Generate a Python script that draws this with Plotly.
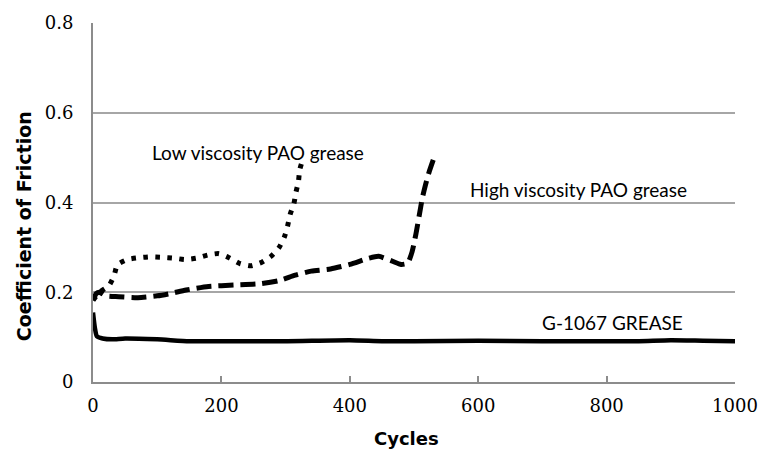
import plotly.graph_objects as go

# ---- data ----
g1067_x = [0, 3, 6, 15, 30, 50, 100, 150, 200, 300, 400, 450, 500, 600, 700, 800, 850, 900, 950, 1000]
g1067_y = [0.155, 0.12, 0.102, 0.097, 0.095, 0.097, 0.095, 0.091, 0.091, 0.091, 0.093, 0.091, 0.091, 0.092,
           0.091, 0.091, 0.091, 0.093, 0.092, 0.091]

low_x = [0, 10, 25, 33, 38, 54, 72, 89, 107, 126, 143, 161, 179, 196, 212, 229, 246, 263, 278, 290,
         298, 303, 307, 313, 316, 320, 322, 327]
low_y = [0.182, 0.2, 0.215, 0.238, 0.261, 0.273, 0.277, 0.279, 0.278, 0.276, 0.273, 0.276, 0.283, 0.286,
         0.277, 0.264, 0.259, 0.267, 0.281, 0.300, 0.323, 0.347, 0.373, 0.398, 0.422, 0.447, 0.473, 0.497]

high_x = [0, 5, 10, 20, 40, 70, 100, 120, 145, 180, 220, 260, 290, 315, 340, 370, 400, 430, 445, 465,
          480, 490, 497, 503, 508, 513, 518, 524, 530]
high_y = [0.182, 0.197, 0.2, 0.192, 0.19, 0.188, 0.192, 0.197, 0.205, 0.213, 0.216, 0.219, 0.226, 0.238,
          0.247, 0.252, 0.262, 0.276, 0.28, 0.27, 0.262, 0.265, 0.29, 0.33, 0.37, 0.41, 0.44, 0.47, 0.495]

x_ticks = [0, 200, 400, 600, 800, 1000]
y_ticks = [0, 0.2, 0.4, 0.6, 0.8]
y_tick_text = ["0", "0.2", "0.4", "0.6", "0.8"]

labels = ["Low viscosity PAO grease", "High viscosity PAO grease", "G-1067 GREASE"]
label_x = [89, 584, 696]
label_y = [0.512, 0.429, 0.133]

SERIF = "DejaVu Serif, Liberation Serif, serif"

fig = go.Figure()
fig.add_trace(go.Scatter(x=g1067_x, y=g1067_y, mode="lines",
                         line=dict(color="black", width=4.5, shape="spline", smoothing=0.6),
                         showlegend=False, hoverinfo="skip"))
fig.add_trace(go.Scatter(x=low_x, y=low_y, mode="lines",
                         line=dict(color="black", width=5, dash="4.5px,7.5px", shape="spline", smoothing=0.6),
                         showlegend=False, hoverinfo="skip"))
fig.add_trace(go.Scatter(x=high_x, y=high_y, mode="lines",
                         line=dict(color="black", width=5, dash="15px,7px", shape="spline", smoothing=0.6),
                         showlegend=False, hoverinfo="skip"))

for t, lx, ly in zip(labels, label_x, label_y):
    fig.add_annotation(x=lx, y=ly, text=t, showarrow=False, xanchor="left", yanchor="middle",
                       font=dict(family="Lato", size=19, color="black"))

fig.add_annotation(xref="paper", yref="paper", x=0.488, y=-0.157, text="<b>Cycles</b>",
                   showarrow=False, xanchor="center", yanchor="middle",
                   font=dict(family="DejaVu Sans", size=18, color="black"))
fig.add_annotation(xref="paper", yref="paper", x=-0.1075, y=0.434, text="<b>Coefficient of Friction</b>",
                   showarrow=False, xanchor="center", yanchor="middle", textangle=-90,
                   font=dict(family="DejaVu Sans", size=19, color="black"))

fig.update_layout(
    width=761, height=449,
    margin=dict(l=93, r=26, t=23, b=67, autoexpand=False),
    paper_bgcolor="white", plot_bgcolor="white",
    showlegend=False,
)
fig.update_xaxes(range=[0, 1000], tickvals=x_ticks, showgrid=False, zeroline=False, automargin=False,
                 showline=True, linecolor="#8c8c8c", linewidth=2,
                 ticks="inside", ticklen=6, tickwidth=1.5, tickcolor="#8c8c8c",
                 tickfont=dict(family=SERIF, size=18, color="black"), ticklabelstandoff=6)
fig.update_yaxes(range=[0, 0.8], tickvals=y_ticks, ticktext=y_tick_text, showgrid=True, automargin=False,
                 gridcolor="#a6a6a6", gridwidth=1.5, zeroline=False,
                 showline=True, linecolor="#8c8c8c", linewidth=2, ticks="",
                 tickfont=dict(family=SERIF, size=18, color="black"), ticklabelstandoff=14)

fig.write_html("out.html", config={"displayModeBar": False},
               post_script="document.body.style.margin='0';document.body.style.padding='0';")
